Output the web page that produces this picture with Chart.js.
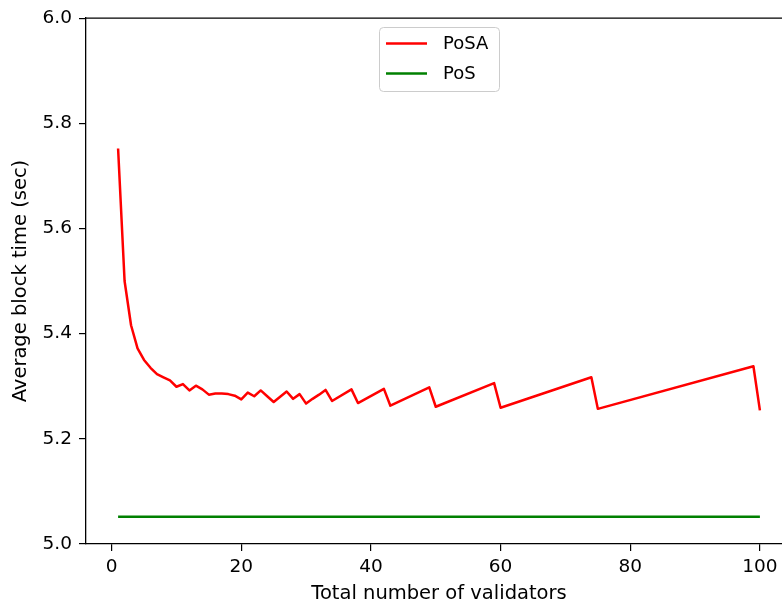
<!DOCTYPE html>
<html>
<head>
<meta charset="utf-8">
<title>Average block time</title>
<script src="https://cdn.jsdelivr.net/npm/chart.js@4"></script>
<style>
    html, body { margin: 0; padding: 0; background: #ffffff; }
    .frame { width: 782px; height: 606px; overflow: hidden; position: relative; }
    canvas { display: block; }
</style>
</head>
<body>
<div class="frame">
    <canvas id="blockChart" width="810" height="606"></canvas>
</div>
<script>
// Data
const posaValidators = [1, 2, 3, 4, 5, 6, 7, 8, 9, 10, 11, 12, 13, 14, 15, 16, 17, 18, 19, 20,
    21, 22, 23, 24, 25, 26, 27, 28, 29, 30, 31, 32, 33, 34, 37, 38, 42, 43, 49, 50,
    59, 60, 74, 75, 99, 100];
const posaBlockTime = [5.752, 5.500, 5.416, 5.372, 5.350, 5.335, 5.323, 5.317, 5.311, 5.299,
    5.304, 5.292, 5.301, 5.294, 5.284, 5.286, 5.286, 5.285, 5.282, 5.275,
    5.288, 5.281, 5.292, 5.281, 5.270, 5.280, 5.290, 5.276, 5.285, 5.267,
    5.276, 5.284, 5.293, 5.272, 5.294, 5.268, 5.295, 5.263, 5.298, 5.261,
    5.306, 5.259, 5.317, 5.257, 5.338, 5.254];
const posValidators = [1, 100];
const posBlockTime = [5.052, 5.052];

const xTicks = [0, 20, 40, 60, 80, 100];
const yTicks = [5.0, 5.2, 5.4, 5.6, 5.8, 6.0];

const FAMILY = "'DejaVu Sans', sans-serif";
const TICK_FONT = { family: FAMILY, size: 18.5 };
const TITLE_FONT = { family: FAMILY, size: 19.5 };

function toPoints(xs, ys) {
    return xs.map((x, i) => ({ x: x, y: ys[i] }));
}

// top + right spines (matplotlib box)
const spinePlugin = {
    id: 'spines',
    afterDraw(chart) {
        const { ctx, chartArea } = chart;
        ctx.save();
        ctx.strokeStyle = '#000000';
        ctx.lineWidth = 1.3;
        ctx.beginPath();
        ctx.moveTo(chartArea.left, chartArea.top);
        ctx.lineTo(chartArea.right, chartArea.top);
        ctx.lineTo(chartArea.right, chartArea.bottom);
        ctx.stroke();
        ctx.restore();
    }
};

// matplotlib style legend box, upper center
const boxLegendPlugin = {
    id: 'boxLegend',
    afterDraw(chart) {
        const { ctx } = chart;
        const box = { x: 379.5, y: 27.5, w: 120, h: 64, r: 4 };
        ctx.save();
        ctx.fillStyle = 'rgba(255,255,255,0.8)';
        ctx.strokeStyle = '#cccccc';
        ctx.lineWidth = 1;
        ctx.beginPath();
        ctx.roundRect(box.x, box.y, box.w, box.h, box.r);
        ctx.fill();
        ctx.stroke();

        ctx.font = `18px ${FAMILY}`;
        ctx.textBaseline = 'middle';
        ctx.textAlign = 'left';
        chart.data.datasets.forEach((ds, i) => {
            const y = 43.5 + i * 30;
            ctx.strokeStyle = ds.borderColor;
            ctx.lineWidth = ds.borderWidth;
            ctx.beginPath();
            ctx.moveTo(386, y);
            ctx.lineTo(427, y);
            ctx.stroke();
            ctx.fillStyle = '#000000';
            ctx.fillText(ds.label, 443, y + 1);
        });
        ctx.restore();
    }
};

function initBlockChart() {
    const ctx = document.getElementById('blockChart').getContext('2d');

    new Chart(ctx, {
        type: 'line',
        data: {
            datasets: [{
                label: 'PoSA',
                data: toPoints(posaValidators, posaBlockTime),
                borderColor: '#ff0000',
                borderWidth: 2.5,
                pointRadius: 0,
                tension: 0,
                borderJoinStyle: 'round'
            }, {
                label: 'PoS',
                data: toPoints(posValidators, posBlockTime),
                borderColor: '#008000',
                borderWidth: 2.5,
                pointRadius: 0,
                tension: 0
            }]
        },
        options: {
            responsive: false,
            animation: false,
            devicePixelRatio: 1,
            layout: { padding: { top: 17, right: 18, left: 0, bottom: 0 } },
            plugins: {
                legend: { display: false },
                tooltip: { enabled: false }
            },
            scales: {
                x: {
                    type: 'linear',
                    min: -3.95,
                    max: 104.95,
                    afterBuildTicks: (scale) => { scale.ticks = xTicks.map(v => ({ value: v })); },
                    afterFit: (scale) => { scale.height = 62; },
                    grid: { drawOnChartArea: false, drawTicks: true, tickLength: 7, color: '#000000', lineWidth: 1.2 },
                    border: { display: true, color: '#000000', width: 1.3 },
                    ticks: { color: '#000000', font: TICK_FONT, padding: 5, maxRotation: 0, autoSkip: false },
                    title: {
                        display: true,
                        text: 'Total number of validators',
                        color: '#000000',
                        font: TITLE_FONT,
                        padding: { top: 0, bottom: 0 }
                    }
                },
                y: {
                    type: 'linear',
                    min: 5.0,
                    max: 6.0,
                    afterBuildTicks: (scale) => { scale.ticks = yTicks.map(v => ({ value: v })); },
                    afterFit: (scale) => { scale.width = 86; },
                    grid: { drawOnChartArea: false, drawTicks: true, tickLength: 7, color: '#000000', lineWidth: 1.2 },
                    border: { display: true, color: '#000000', width: 1.3 },
                    ticks: {
                        color: '#000000',
                        font: TICK_FONT,
                        padding: 7,
                        autoSkip: false,
                        callback: (v) => Number(v).toFixed(1)
                    },
                    title: {
                        display: true,
                        text: 'Average block time (sec)',
                        color: '#000000',
                        font: TITLE_FONT,
                        padding: { top: 9, bottom: 0 }
                    }
                }
            }
        },
        plugins: [spinePlugin, boxLegendPlugin]
    });
}

document.addEventListener('DOMContentLoaded', function() {
    initBlockChart();
});
</script>
</body>
</html>
